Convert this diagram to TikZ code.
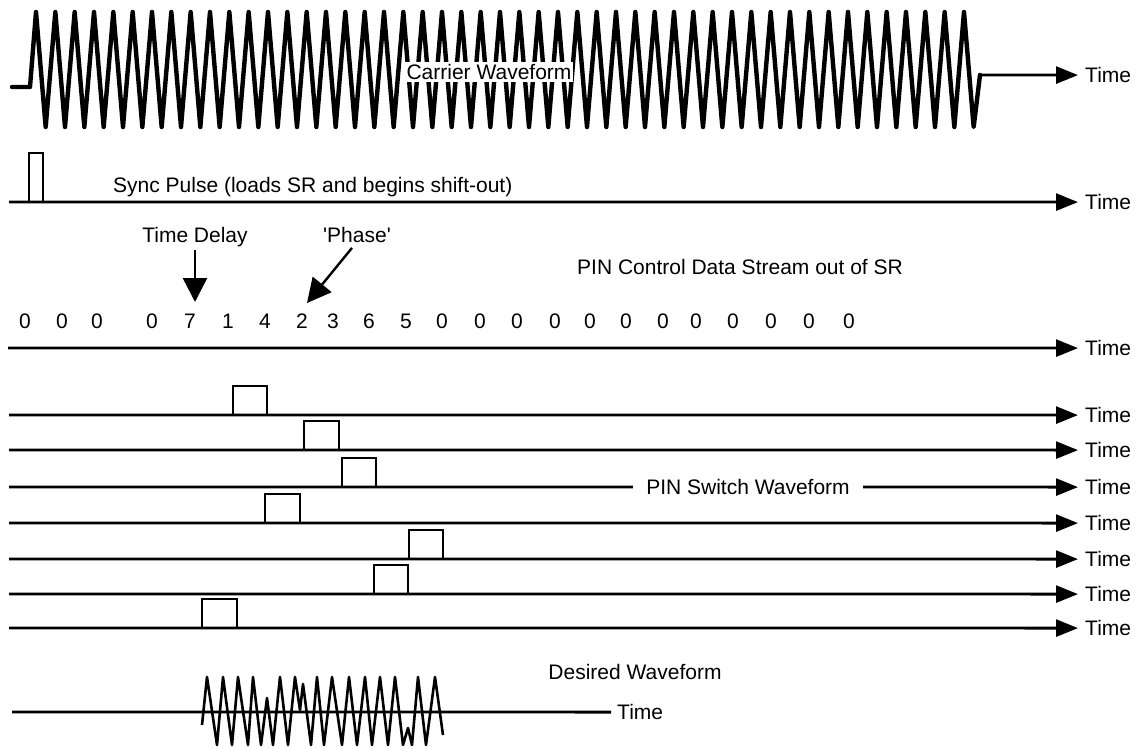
\documentclass[tikz,border=0pt]{standalone}
\usepackage{fontspec}
\setmainfont{Liberation Sans}
\usetikzlibrary{arrows.meta}
\begin{document}
\begin{tikzpicture}[x=1pt,y=-1pt,
  lbl/.style={font=\fontsize{21}{25}\selectfont, inner sep=0pt, anchor=base},
  lblw/.style={font=\fontsize{21}{25}\selectfont, inner sep=0pt, anchor=base west},
  timelbl/.style={font=\fontsize{21}{25}\selectfont, inner sep=0pt, anchor=base west},
  axis/.style={line width=2.8pt, -{Triangle[length=22pt,width=17pt]}},
  baseline/.style={line width=2.8pt},
  pulse/.style={line width=2.2pt, line join=miter},
  wave/.style={line width=4.4pt, line join=round, line cap=round},
  dwave/.style={line width=2.6pt, line join=round},
  ptr/.style={line width=2.4pt, -{Triangle[length=24pt,width=24pt]}}
]
\useasboundingbox (0,0) rectangle (1137,747);

% ---------- carrier ----------
\node[timelbl] (tc) at (1085,82.6) {Time};
\draw[wave] (12,87) -- (30,87)
  \foreach \k in {0,...,48} { -- ({36+19.333*\k},12) -- ({45.67+19.333*\k},127) }
  -- (980,75);
\coordinate (cend) at (980,75);
\draw[axis] (cend) -- ([xshift=-7pt]tc.west);
\node[lbl, fill=white, inner sep=2pt] (cw) at (489,79.5) {Carrier Waveform};

% ---------- sync pulse ----------
\node[timelbl] (ts) at (1085,209.6) {Time};
\coordinate (ss) at (9,202);
\draw[axis] (ss) -- ([xshift=-7pt]ts.west);
\draw[pulse] (29,202) -- (29,153) -- (43,153) -- (43,202);
\node[lblw] (sync) at (113,192) {Sync Pulse (loads SR and begins shift-out)};

% ---------- labels and pointers ----------
\node[lbl] (td) at (195,242.5) {Time Delay};
\node[lbl] (ph) at (357,242.5) {\textquotesingle Phase\textquotesingle};
\coordinate (tdtip) at (195,302);
\coordinate (phtip) at (307,303);
\draw[ptr] ([yshift=-3pt]td.south) -- (tdtip);
\draw[ptr] ([shift={(-5pt,-5pt)}]ph.south) -- (phtip);
\node[lblw] (pincd) at (577,274) {PIN Control Data Stream out of SR};

% ---------- data stream ----------
\foreach \x/\d [count=\i] in {25/0,62/0,97/0,152/0,190/7,228/1,265/4,302/2,333/3,369/6,406/5,442/0,480/0,517/0,555/0,590/0,626/0,663/0,696/0,733/0,771/0,809/0,849/0}
  \node[lbl] (d\i) at (\x,328) {\d};
\node[timelbl] (tds) at (1085,355.6) {Time};
\coordinate (sds) at (8,348);
\draw[axis] (sds) -- ([xshift=-7pt]tds.west);

% ---------- PIN switch waveforms ----------
\foreach \y/\a/\b [count=\i] in {415/233/267, 450/304/339, 487/342/376, 523/265/300, 559/409/443, 594/374/408, 628/202/237} {
  \node[timelbl] (tp\i) at (1085,\y+7.6) {Time};
  \coordinate (sp\i) at (9,\y);
  \draw[axis] (sp\i) -- ([xshift=-7pt]tp\i.west);
  \draw[pulse] (\a,\y) -- (\a,\y-29) -- (\b,\y-29) -- (\b,\y);
}
\node[lbl, fill=white, inner xsep=13pt, inner ysep=4pt] (pinsw) at (748,494.6) {PIN Switch Waveform};

% ---------- desired waveform ----------
\node[lbl] (dw) at (635,679.5) {Desired Waveform};
\node[timelbl] (tdw) at (617,719.6) {Time};
\coordinate (sdw) at (12,712);
\draw[baseline] (sdw) -- ([xshift=-6pt]tdw.west);
\draw[dwave] (202,725) -- (207,677) -- (217,745) -- (223,677) -- (232,745) -- (238,677)
  -- (248,745) -- (253,677) -- (261,745) -- (267,698) -- (273,745) -- (280,677)
  -- (288,745) -- (295,677) -- (300,710) -- (303,684) -- (311,745) -- (317,677)
  -- (324,745) -- (332,677) -- (342,745) -- (349,677) -- (357,745) -- (365,677)
  -- (372,745) -- (380,677) -- (388,745) -- (395,677) -- (403,745) -- (408,728)
  -- (412,745) -- (418,677) -- (426,745) -- (435,677) -- (443,735);
\end{tikzpicture}
\end{document}
